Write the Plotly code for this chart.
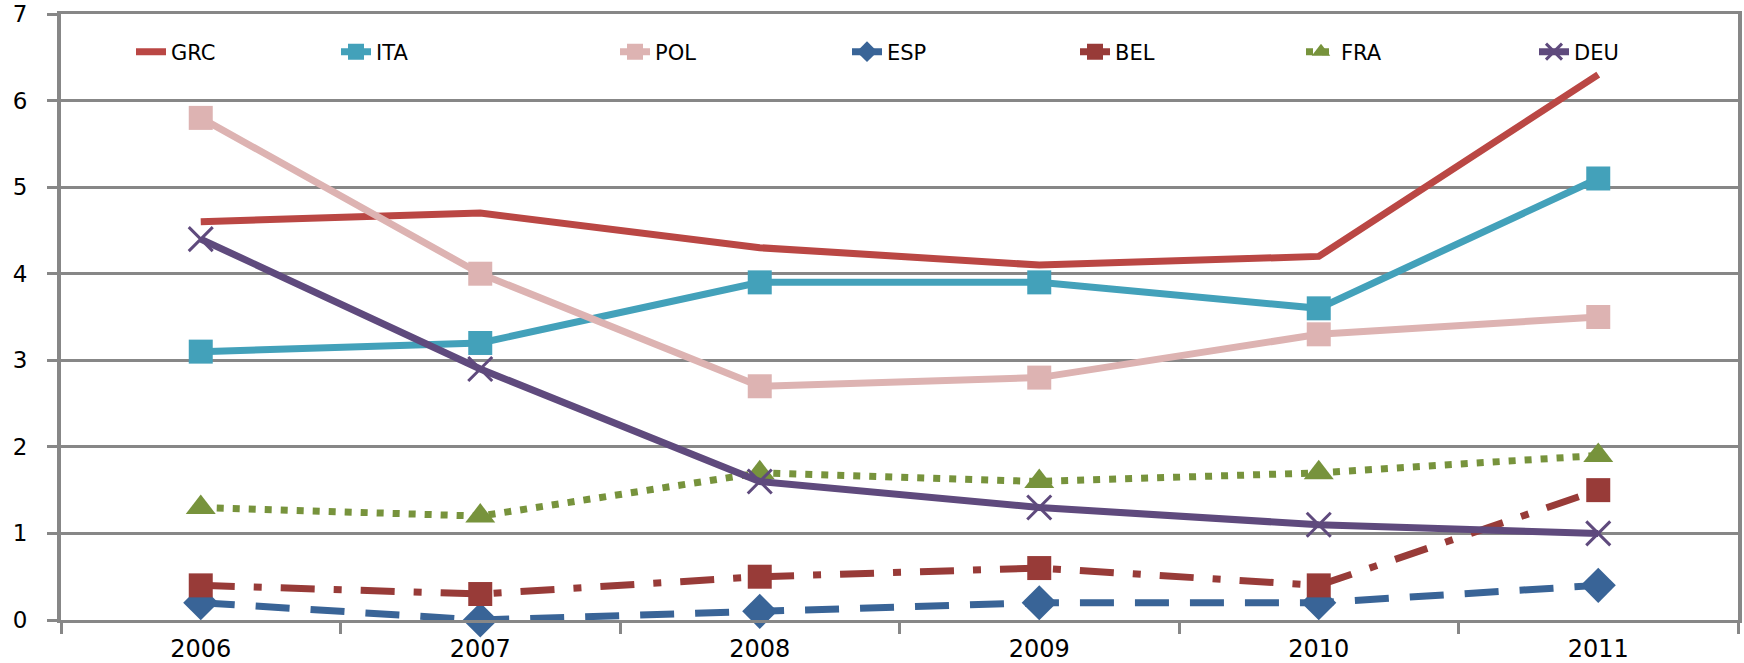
import plotly.graph_objects as go

# Categories and series values
years = ["2006", "2007", "2008", "2009", "2010", "2011"]
grc = [4.6, 4.7, 4.3, 4.1, 4.2, 6.3]
ita = [3.1, 3.2, 3.9, 3.9, 3.6, 5.1]
pol = [5.8, 4.0, 2.7, 2.8, 3.3, 3.5]
esp = [0.2, 0.0, 0.1, 0.2, 0.2, 0.4]
bel = [0.4, 0.3, 0.5, 0.6, 0.4, 1.5]
fra = [1.3, 1.2, 1.7, 1.6, 1.7, 1.9]
deu = [4.4, 2.9, 1.6, 1.3, 1.1, 1.0]
y_ticks = [0, 1, 2, 3, 4, 5, 6, 7]

W, H = 1744, 663
L, R, T, B = 61, 6, 14, 43
PW, PH = W - L - R, H - T - B

series = [
    dict(name="GRC", y=grc, color="#BA4744", dash="solid", symbol=None),
    dict(name="ITA", y=ita, color="#43A1BA", dash="solid", symbol="square"),
    dict(name="POL", y=pol, color="#DDB3B2", dash="solid", symbol="square"),
    dict(name="ESP", y=esp, color="#396497", dash="34px,21px", symbol="diamond"),
    dict(name="BEL", y=bel, color="#983B38", dash="34px,19px,8px,19px", symbol="square"),
    dict(name="FRA", y=fra, color="#77933C", dash="7px,9px", symbol="triangle-up"),
    dict(name="DEU", y=deu, color="#5F4A7D", dash="solid", symbol="x-thin"),
]

# x pixel where each legend label's text begins
legend_text_x = [173, 378, 657, 889, 1117, 1343, 1576]
legend_y_px = 52

fig = go.Figure()
layout_legends = {}
for i, s in enumerate(series):
    key = "legend" if i == 0 else f"legend{i + 1}"
    if s["symbol"] is None:
        mode = "lines"
        marker = None
    else:
        mode = "lines+markers"
        if s["symbol"] == "x-thin":
            marker = dict(symbol="x-thin", size=24, color=s["color"],
                          line=dict(color=s["color"], width=3))
        elif s["symbol"] == "triangle-up":
            marker = dict(symbol="triangle-up", size=26, color=s["color"])
        elif s["symbol"] == "diamond":
            marker = dict(symbol="diamond", size=27, color=s["color"])
        else:
            marker = dict(symbol="square", size=24, color=s["color"])
    fig.add_trace(go.Scatter(
        x=years, y=s["y"], name=s["name"], mode=mode,
        line=dict(color=s["color"], width=7, dash=s["dash"]),
        marker=marker, legend=key, cliponaxis=False,
    ))
    left_px = legend_text_x[i] - 42
    layout_legends[key] = dict(
        x=(left_px - L) / PW, xanchor="left",
        y=(H - B - legend_y_px) / PH, yanchor="middle",
        bgcolor="rgba(255,255,255,0)", borderwidth=0,
        font=dict(family="DejaVu Sans", size=21, color="#000000"),
        orientation="h",
    )

grid = "#878787"
fig.update_layout(
    width=W, height=H,
    margin=dict(l=L, r=R, t=T, b=B, pad=0, autoexpand=False),
    paper_bgcolor="white", plot_bgcolor="white",
    showlegend=True,
    font=dict(family="DejaVu Sans", size=24, color="#000000"),
    xaxis=dict(
        type="category", range=[-0.5, 5.5], automargin=False,
        tickson="boundaries", ticks="outside", ticklen=11, tickwidth=3, tickcolor=grid,
        showgrid=False, showline=True, linecolor=grid, linewidth=3, mirror=True,
        tickfont=dict(family="DejaVu Sans", size=24), ticklabelstandoff=5,
        zeroline=False,
    ),
    yaxis=dict(
        range=[0, 7], tickvals=y_ticks, ticktext=[str(v) for v in y_ticks],
        automargin=False, ticklabeloverflow="allow",
        ticks="outside", ticklen=10, tickwidth=3, tickcolor=grid,
        showgrid=True, gridcolor=grid, gridwidth=3,
        showline=True, linecolor=grid, linewidth=4, mirror=True,
        zeroline=False, tickfont=dict(family="DejaVu Sans", size=23),
        ticklabelstandoff=15,
    ),
    **layout_legends,
)

fig.write_html("out.html")
